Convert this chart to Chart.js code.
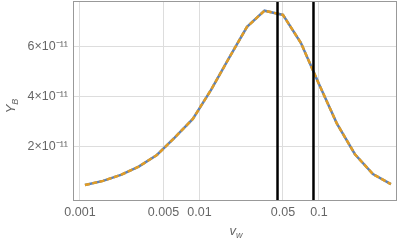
<!DOCTYPE html>
<html>
<head>
<meta charset="utf-8">
<script src="https://cdn.jsdelivr.net/npm/chart.js@4"></script>
<style>
  html, body { margin: 0; padding: 0; background: #fff; }
  #wrap { width: 399px; height: 243px; }
</style>
</head>
<body>
<div id="wrap"><canvas id="chart" width="399" height="243"></canvas></div>
<script>
// wall velocity values (log spaced)
const vw = [0.0011, 0.00156, 0.0022, 0.0031, 0.0044, 0.0062, 0.0088, 0.0125, 0.0177,
            0.025, 0.035, 0.05, 0.0707, 0.1, 0.141, 0.2, 0.283, 0.4];
// baryon yield, units of 1e-11
const yB = [0.44, 0.61, 0.85, 1.18, 1.65, 2.35, 3.1, 4.27, 5.55,
            6.8, 7.45, 7.28, 6.15, 4.5, 2.92, 1.68, 0.88, 0.48];
const vLines = [0.045, 0.09];
const xTicks = [0.001, 0.005, 0.01, 0.05, 0.1];
const xTickLabels = ["0.001", "0.005", "0.01", "0.05", "0.1"];
const yTicks = [2, 4, 6];
const yTickLabels = ["2×10⁻¹¹", "4×10⁻¹¹", "6×10⁻¹¹"];

const yMin = -0.16, yMax = 7.84;
const curve = vw.map((v, i) => ({ x: v, y: yB[i] }));

const lineSets = vLines.map(v => ({
  data: [{ x: v, y: yMin }, { x: v, y: yMax }],
  borderColor: "#000",
  borderWidth: 2.5,
  pointRadius: 0,
  order: 0
}));

const gray = "#666";
const tickFont = { family: "Liberation Sans", size: 12.5 };

const framePlugin = {
  id: "frame",
  afterDraw(chart) {
    const { ctx, chartArea: a } = chart;
    ctx.save();
    ctx.strokeStyle = "#999";
    ctx.lineWidth = 1;
    ctx.strokeRect(a.left + 0.5, a.top + 0.5, a.right - a.left - 1, a.bottom - a.top);
    // axis titles with subscripts
    ctx.fillStyle = gray;
    ctx.textBaseline = "alphabetic";
    ctx.font = "italic 13px 'Liberation Sans'";
    let w1 = ctx.measureText("v").width;
    ctx.font = "italic 9px 'Liberation Sans'";
    let w2 = ctx.measureText("w").width;
    let x0 = 236 - (w1 + w2) / 2;
    ctx.font = "italic 13px 'Liberation Sans'";
    ctx.fillText("v", x0, 235);
    ctx.font = "italic 9px 'Liberation Sans'";
    ctx.fillText("w", x0 + w1, 238);

    ctx.translate(15, 106);
    ctx.rotate(-Math.PI / 2);
    ctx.font = "italic 13px 'Liberation Sans'";
    w1 = ctx.measureText("Y").width;
    ctx.font = "italic 9px 'Liberation Sans'";
    w2 = ctx.measureText("B").width;
    x0 = -(w1 + w2) / 2;
    ctx.font = "italic 13px 'Liberation Sans'";
    ctx.fillText("Y", x0, 0);
    ctx.font = "italic 9px 'Liberation Sans'";
    ctx.fillText("B", x0 + w1, 3);
    ctx.restore();
  }
};

new Chart(document.getElementById("chart"), {
  type: "line",
  data: {
    datasets: [
      ...lineSets,
      {
        data: curve,
        borderColor: "#E19C24",
        borderWidth: 2.5,
        borderDash: [5, 2.5],
        pointRadius: 0,
        order: 1
      },
      {
        data: curve,
        borderColor: "#5E81B5",
        borderWidth: 2.5,
        pointRadius: 0,
        order: 2
      }
    ]
  },
  options: {
    responsive: false,
    animation: false,
    layout: { padding: { top: 1, right: 2, left: 0, bottom: 0 } },
    plugins: { legend: { display: false }, tooltip: { enabled: false } },
    scales: {
      x: {
        type: "logarithmic",
        min: 0.000874,
        max: 0.45,
        afterBuildTicks(s) { s.ticks = xTicks.map(v => ({ value: v })); },
        afterFit(s) { s.height = 43; s.paddingLeft = 0; s.paddingRight = 0; },
        ticks: {
          autoSkip: false,
          maxRotation: 0,
          color: gray,
          font: tickFont,
          padding: 5,
          callback: (v) => xTickLabels[xTicks.indexOf(v)] ?? ""
        },
        grid: { color: "#ddd", drawTicks: false },
        border: { display: false }
      },
      y: {
        min: yMin,
        max: yMax,
        afterBuildTicks(s) { s.ticks = yTicks.map(v => ({ value: v })); },
        afterFit(s) { s.width = 73; s.paddingTop = 0; s.paddingBottom = 0; },
        ticks: {
          color: gray,
          font: tickFont,
          padding: 5,
          callback: (v) => yTickLabels[yTicks.indexOf(v)] ?? ""
        },
        grid: { color: "#ddd", drawTicks: false },
        border: { display: false }
      }
    }
  },
  plugins: [framePlugin]
});
</script>
</body>
</html>
